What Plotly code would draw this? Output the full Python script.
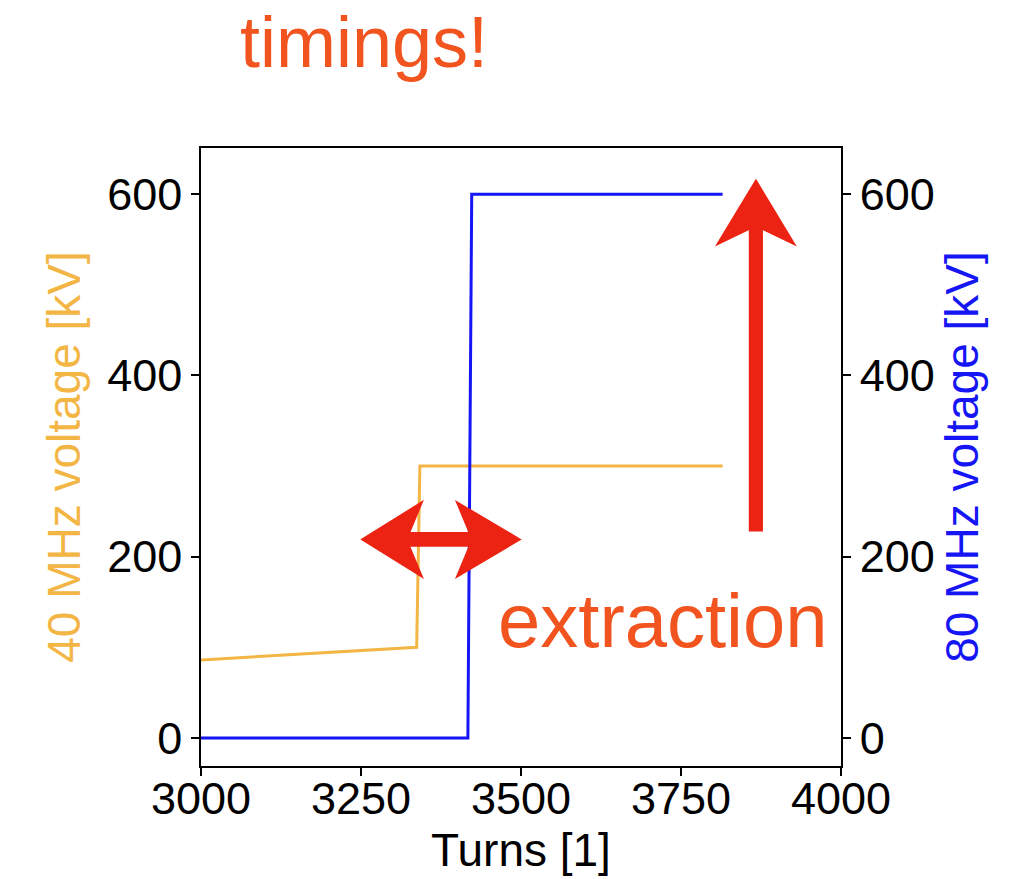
import plotly.graph_objects as go

# ---- data ----
turns_40 = [3000, 3337, 3342, 3815]
volt_40 = [86, 100, 300, 300]
turns_80 = [3000, 3417, 3423, 3815]
volt_80 = [0, 0, 600, 600]
x_ticks = [3000, 3250, 3500, 3750, 4000]
y_ticks = [0, 200, 400, 600]

ORANGE = "#F3B645"
BLUE = "#1515F5"
RED = "#EC2313"
TEXT_RED = "#F2541F"
FONT = "Liberation Sans, Arial, sans-serif"

fig = go.Figure()
fig.add_trace(go.Scatter(x=turns_40, y=volt_40, mode="lines",
                         line=dict(color=ORANGE, width=3), yaxis="y", showlegend=False))
fig.add_trace(go.Scatter(x=turns_80, y=volt_80, mode="lines",
                         line=dict(color=BLUE, width=3), yaxis="y2", showlegend=False))

# ---- hand-drawn style arrows (annotations, in data units) ----
def poly(pts):
    return "M " + " L ".join(f"{x},{y}" for x, y in pts) + " Z"

# vertical arrow
vx, vtip, vbase, vbarb, vnotch = 3867, 615, 229, 545, 562
vhw, vbw = 9.5, 60
up_arrow = [(vx, vtip), (vx + vbw, vbarb), (vx + vhw, vnotch), (vx + vhw, vbase),
            (vx - vhw, vbase), (vx - vhw, vnotch), (vx - vbw, vbarb)]
# horizontal double arrow
hy, hhw, hbh = 219, 7, 41
lt, lb, ln = 3252, 3345, 3325
rt, rb, rn = 3498, 3400, 3420
dbl_arrow = [(lt, hy), (lb, hy + hbh), (ln, hy + hhw), (rn, hy + hhw), (rb, hy + hbh),
             (rt, hy), (rb, hy - hbh), (rn, hy - hhw), (ln, hy - hhw), (lb, hy - hbh)]

for pts in (up_arrow, dbl_arrow):
    fig.add_shape(type="path", path=poly(pts), xref="x", yref="y",
                  fillcolor=RED, line=dict(color=RED, width=2), layer="above")

axis_common = dict(showgrid=False, zeroline=False, showline=True, linecolor="black",
                   linewidth=1.5, ticks="outside", ticklen=8, tickwidth=1.5, automargin=False,
                   tickcolor="black", tickfont=dict(size=45, color="black", family=FONT))

fig.update_layout(
    width=1035, height=879,
    margin=dict(l=201, r=194, t=148, b=113),
    paper_bgcolor="white", plot_bgcolor="white",
    font=dict(family=FONT),
    xaxis=dict(range=[3000, 4000], tickvals=x_ticks, mirror=True, ticklabelstandoff=-16,
               title=dict(text="Turns [1]", font=dict(size=46, color="black"), standoff=6),
               **axis_common),
    yaxis=dict(range=[-31, 651], tickvals=y_ticks, mirror=True,
               title=dict(text="40 MHz voltage [kV]", font=dict(size=46, color=ORANGE), standoff=12),
               **axis_common),
    yaxis2=dict(range=[-31, 651], tickvals=y_ticks, overlaying="y", side="right",
                title=dict(text="80 MHz voltage [kV]", font=dict(size=46, color=BLUE), standoff=12),
                **axis_common),
    annotations=[
        dict(text="timings!", xref="paper", yref="paper", x=0.255, y=1.1715,
             xanchor="center", yanchor="middle", showarrow=False,
             font=dict(size=72, color=TEXT_RED, family=FONT)),
        dict(text="extraction", xref="paper", yref="paper", x=0.722, y=0.236,
             xanchor="center", yanchor="middle", showarrow=False,
             font=dict(size=76, color=TEXT_RED, family=FONT)),
    ],
)

fig.write_html("out.html")
